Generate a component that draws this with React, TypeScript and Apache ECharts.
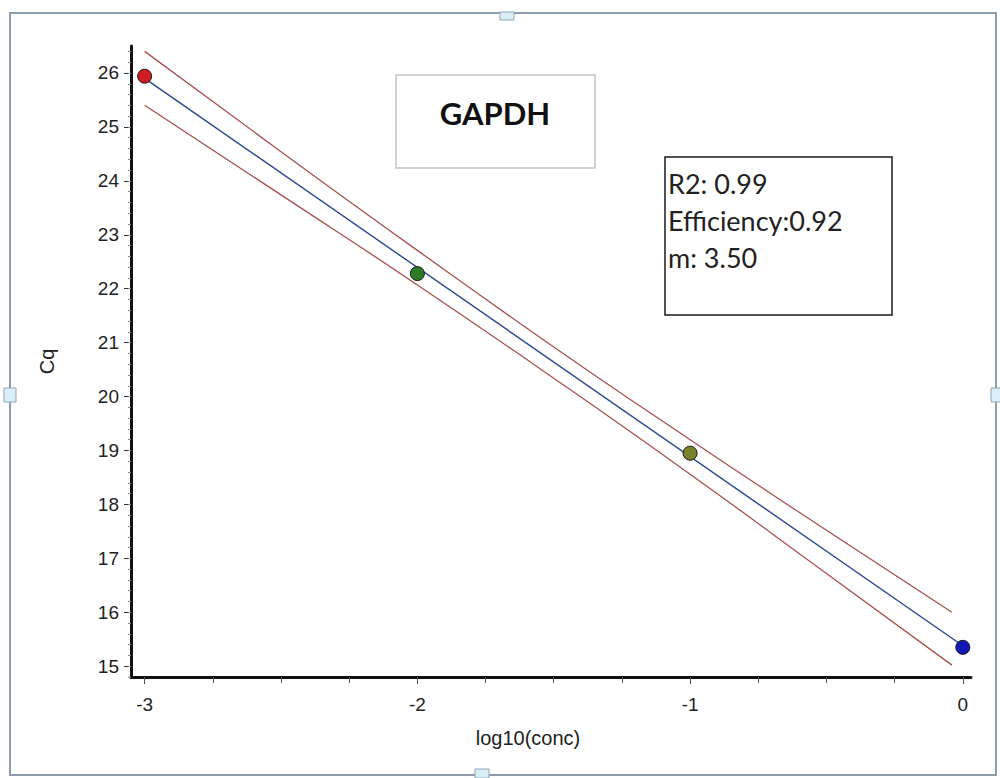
import React, { useEffect, useRef } from "react";
import * as echarts from "echarts";

// Standard curve data (log10 concentration vs Cq)
const xValues = [-3, -2, -1, 0];
const cqValues = [25.94, 22.28, 18.95, 15.35];
const pointColors = ["#cf1d22", "#2b7a25", "#7a832c", "#1019b4"];

// Fitted regression line (end points)
const fitX = [-3, 0];
const fitY = [25.9, 15.38];

// Confidence band lines, read at several x positions
const bandX = [-3, -2.5, -2, -1.5, -1, -0.5, -0.04];
const upperBand = [26.4, 24.54, 22.71, 20.92, 19.2, 17.52, 16.0];
const lowerBand = [25.4, 23.74, 22.07, 20.34, 18.56, 16.72, 15.02];

// Axis ticks
const xMajorTicks = [-3, -2, -1, 0];
const xMinorTicks = [-3, -2.75, -2.5, -2.25, -2, -1.75, -1.5, -1.25, -1, -0.75, -0.5, -0.25, 0];
const yMajorTicks = [15, 16, 17, 18, 19, 20, 21, 22, 23, 24, 25, 26];
const yMinorTicks: number[] = [];
for (let i = 74; i <= 132; i++) yMinorTicks.push(Math.round(i * 20) / 100);

const statLines = ["R2: 0.99", "Efficiency:0.92", "m: 3.50"];
const titleText = "GAPDH";

export default function App() {
  const ref = useRef<HTMLDivElement>(null);
  useEffect(() => {
    if (!ref.current) return;
    const chart = echarts.init(ref.current, null, { renderer: "svg" });
    const font = "'Liberation Sans', Arial, sans-serif";
    const calib = "Lato, 'Open Sans', sans-serif";
    const pair = (xs: number[], ys: number[]) => xs.map((x, i) => [x, ys[i]]);
    const handle = { fill: "#d9eef7", stroke: "#8fa6b5", lineWidth: 1 };
    chart.setOption({
      animation: false,
      backgroundColor: "#ffffff",
      grid: { left: 131, top: 46, width: 840, height: 631 },
      xAxis: [
        {
          type: "value",
          min: -3.05,
          max: 0.03,
          position: "bottom",
          name: "log10(conc)",
          nameLocation: "middle",
          nameGap: 51,
          nameTextStyle: { fontFamily: font, fontSize: 20, color: "#222", padding: [0, 46, 0, 0] },
          axisLine: { show: true, onZero: false, lineStyle: { color: "#111", width: 3 } },
          axisTick: { show: true, customValues: xMajorTicks, length: 7, lineStyle: { color: "#333", width: 1 } },
          axisLabel: { customValues: xMajorTicks, fontFamily: font, fontSize: 19, color: "#222", margin: 18 },
          splitLine: { show: false },
        },
        {
          type: "value",
          min: -3.05,
          max: 0.03,
          position: "bottom",
          axisLine: { show: false, onZero: false },
          axisTick: { show: true, customValues: xMinorTicks, length: 6, lineStyle: { color: "#555", width: 1 } },
          axisLabel: { show: false },
          splitLine: { show: false },
        },
      ],
      yAxis: [
        {
          type: "value",
          min: 14.8,
          max: 26.5,
          position: "left",
          name: "Cq",
          nameLocation: "middle",
          nameGap: 74,
          nameRotate: 90,
          nameTextStyle: { fontFamily: font, fontSize: 20, color: "#222" },
          axisLine: { show: true, onZero: false, lineStyle: { color: "#111", width: 3 } },
          axisTick: { show: true, customValues: yMajorTicks, length: 7, lineStyle: { color: "#333", width: 1 } },
          axisLabel: { customValues: yMajorTicks, fontFamily: font, fontSize: 19, color: "#222", margin: 12 },
          splitLine: { show: false },
        },
        {
          type: "value",
          min: 14.8,
          max: 26.5,
          position: "left",
          axisLine: { show: false, onZero: false },
          axisTick: { show: true, customValues: yMinorTicks, length: 3, lineStyle: { color: "#888", width: 1 } },
          axisLabel: { show: false },
          splitLine: { show: false },
        },
      ],
      series: [
        {
          type: "line",
          data: pair(bandX, upperBand),
          smooth: true,
          symbol: "none",
          lineStyle: { color: "#a8504f", width: 1.3 },
        },
        {
          type: "line",
          data: pair(bandX, lowerBand),
          smooth: true,
          symbol: "none",
          lineStyle: { color: "#a8504f", width: 1.3 },
        },
        {
          type: "line",
          data: pair(fitX, fitY),
          symbol: "none",
          lineStyle: { color: "#2c4690", width: 1.4 },
        },
        {
          type: "scatter",
          symbol: "circle",
          symbolSize: 14,
          data: xValues.map((x, i) => ({
            value: [x, cqValues[i]],
            itemStyle: { color: pointColors[i], borderColor: "#1a1a1a", borderWidth: 1, opacity: 1 },
          })),
          z: 5,
        },
      ],
      graphic: [
        { type: "rect", shape: { x: 10, y: 13, width: 986, height: 762 }, style: { fill: "none", stroke: "#8e9dab", lineWidth: 2 }, z: 1 },
        { type: "rect", shape: { x: 500, y: 12, width: 14, height: 8 }, style: handle, z: 2 },
        { type: "rect", shape: { x: 475, y: 769, width: 14, height: 9 }, style: handle, z: 2 },
        { type: "rect", shape: { x: 4, y: 388, width: 12, height: 14 }, style: handle, z: 2 },
        { type: "rect", shape: { x: 991, y: 388, width: 12, height: 14 }, style: handle, z: 2 },
        { type: "rect", shape: { x: 396, y: 75, width: 199, height: 93 }, style: { fill: "#fff", stroke: "#c4c4c4", lineWidth: 1.5 }, z: 10 },
        {
          type: "text",
          x: 495,
          y: 113,
          style: { text: titleText, fontFamily: calib, fontWeight: "bold", fontSize: 31, fill: "#111", align: "center", verticalAlign: "middle" },
          z: 11,
        },
        { type: "rect", shape: { x: 665, y: 157, width: 227, height: 158 }, style: { fill: "#fff", stroke: "#1a1a1a", lineWidth: 1.5 }, z: 10 },
        ...statLines.map((t, i) => ({
          type: "text",
          x: 668,
          y: 183 + i * 37,
          style: { text: t, fontFamily: calib, fontSize: 27, fill: "#222", align: "left", verticalAlign: "middle" },
          z: 11,
        })),
      ],
    });
    return () => chart.dispose();
  }, []);
  return (
    <div
      ref={ref}
      style={{ position: "fixed", left: 0, top: 0, width: 1000, height: 778, background: "#fff" }}
    />
  );
}
